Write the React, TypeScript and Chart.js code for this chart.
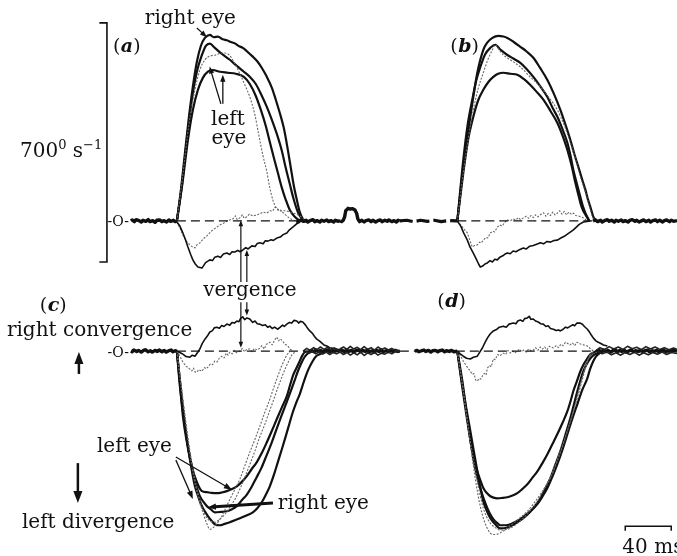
import React, { useEffect, useRef } from 'react';
import { Chart, registerables } from 'chart.js';

Chart.register(...registerables);

type Pt = [number, number];

// Time in ms from saccade onset; velocity in deg/s.
// Panel (a): right-going saccade, binocular velocities + vergence
const A_RIGHT_EYE_1: Pt[] = [[0,0],[3.5,91],[7,199],[10.4,302],[13.9,393],[17.4,466],[20.9,513],[24.4,536],[28.7,545],[32,538],[35.7,540],[40,532],[43.5,529],[47,524],[50.5,520],[54,512],[57.4,507],[61,497],[63.5,489],[67,478],[69.6,469],[74,448],[78.3,422],[82.7,390],[86.1,355],[89.6,316],[93.1,272],[96.6,208],[99.2,155],[101.8,103],[104.4,62],[107,26],[109.6,6],[112.2,-3]];
const A_RIGHT_EYE_2: Pt[] = [[0,0],[4.4,105],[8.7,237],[13,355],[17.4,437],[21.8,486],[25.2,513],[28.7,519],[33,507],[39.2,489],[46.1,472],[52.2,454],[58.3,437],[63.5,422],[68.7,401],[74,366],[78.3,334],[82.7,296],[87,255],[91.4,205],[94.8,155],[98.3,108],[101.8,62],[105.3,26],[108.8,6],[112.2,-3]];
const A_LEFT_EYE_1: Pt[] = [[0,0],[5.2,120],[9.6,237],[13.9,325],[18.3,384],[22.6,419],[27,437],[31.3,442],[37.4,437],[44.4,434],[51.3,431],[58.3,422],[63.5,401],[68.7,366],[73.1,325],[77.4,278],[80.9,231],[84.4,185],[87.9,141],[91.4,97],[94.8,62],[98.3,32],[102.7,12],[107,0]];
const A_LEFT_EYE_2: Pt[] = [[0,0],[5.2,135],[10.4,281],[15.7,384],[20,442],[24.4,472],[28.7,483],[33.9,486],[39.2,492],[44.4,489],[49.6,466],[54.8,431],[59.2,398],[63.5,363],[67.9,311],[71.3,252],[74.8,193],[78.3,144],[80.9,97],[83.5,62],[86.1,41],[89.6,29],[94,30],[98.3,26],[105.3,18],[111.4,3]];
const A_VERGENCE_1: Pt[] = [[0,-3],[2.6,-15],[5.2,-35],[7.5,-55],[9.6,-76],[12,-98],[13.9,-114],[16,-126],[18.3,-135],[21.8,-138],[25,-122],[28.7,-114],[31,-116],[33,-106],[35.7,-103],[38,-107],[40.5,-97],[43.5,-94],[46,-98],[48,-90],[50.5,-91],[53,-86],[55,-90],[57.4,-85],[60,-78],[62,-82],[65.3,-73],[68,-75],[70,-66],[72.2,-64],[75,-67],[77,-58],[79.2,-59],[82,-55],[84,-57],[87,-50],[90,-47],[92.5,-40],[95.7,-35],[98,-26],[100.9,-18],[104,-9],[107,-3]];
const A_VERGENCE_2: Pt[] = [[0,-3],[2.5,-20],[5.2,-41],[8,-58],[11.3,-70],[13.5,-76],[15.7,-79],[17.5,-70],[20,-64],[23,-52],[26.1,-44],[28.5,-35],[31.3,-26],[34,-20],[37.4,-12],[40,-8],[43.5,0],[46,3],[48.7,6],[51,15],[52.5,4],[54.8,9],[57,18],[58.5,8],[60.9,12],[63,20],[66.1,15],[69,17],[72.2,21],[75,26],[78.3,23],[81,30],[83.5,29],[85,40],[87,38],[89,30],[90.5,32],[93,22],[95.7,15],[98,8],[100.9,3],[104,0],[107,-3]];

// Panel (b)
const B_RIGHT_EYE_1: Pt[] = [[0,0],[5.2,158],[11.3,305],[17.4,434],[22.6,501],[26,522],[30.5,536],[35.7,542],[40,540],[43.5,536],[49,524],[54.8,510],[60,497],[66.1,478],[72,448],[78.3,413],[84,372],[89.6,325],[94,282],[98.3,237],[102,193],[105.3,158],[108.5,122],[111.4,91],[113.5,64],[115.7,41],[118.3,12],[121,0]];
const B_RIGHT_EYE_2: Pt[] = [[0,0],[5.2,179],[9,282],[13,355],[16.5,412],[20,451],[24,487],[28.7,507],[33,516],[38,500],[43.5,486],[49,475],[54.8,463],[60,446],[66.1,422],[72,395],[78.3,363],[83,330],[87,305],[91.5,268],[95.7,229],[98.5,190],[100.9,149],[104,108],[107,70],[109,45],[111.4,23],[114.8,0]];
const B_LEFT_EYE_1: Pt[] = [[0,0],[5.2,141],[9.5,240],[13.9,305],[18,352],[22.6,384],[27,407],[31.3,422],[35.5,431],[40,434],[46,431],[52.2,428],[58,415],[63.5,398],[69,378],[74.8,355],[81,322],[87,287],[91.5,250],[95.7,208],[99.5,160],[102.7,111],[105,80],[107,53],[109,33],[111.4,18],[114.8,0]];
const B_LEFT_EYE_2: Pt[] = [[0,0],[5.2,141],[9.5,240],[13.9,325],[18,386],[22.6,434],[26.5,472],[30.5,501],[33,516],[36.5,500],[40,486],[46,472],[54.8,451],[63,423],[72.2,393],[80,360],[87,325],[93,280],[98.3,229],[103,178],[107,129],[111,88],[114,53],[117.5,12],[120,0]];
const B_VERGENCE_1: Pt[] = [[0,0],[3,-15],[5.5,-35],[8.7,-56],[11,-76],[13.9,-94],[16.5,-112],[18.5,-126],[20,-135],[22,-132],[24,-126],[26.1,-123],[28.5,-116],[30.5,-120],[32.5,-112],[34.8,-114],[37,-106],[39.5,-102],[41.5,-97],[43.5,-94],[46,-96],[48.5,-88],[51,-90],[54,-84],[57.4,-79],[60,-82],[63,-74],[66,-72],[69,-68],[72.2,-64],[75,-67],[78,-60],[81,-62],[84,-57],[87,-56],[90,-50],[93,-45],[96,-38],[98.5,-32],[100.9,-26],[103.5,-18],[106,-10],[109.6,-3],[115.7,0]];
const B_VERGENCE_2: Pt[] = [[0,0],[3,-12],[5.5,-22],[8.7,-35],[11,-58],[13,-76],[15,-72],[17.4,-70],[19.5,-62],[21,-64],[22.6,-56],[25,-48],[26.5,-50],[28.7,-35],[31,-30],[32.5,-32],[34.8,-18],[37,-12],[39,-15],[41,-5],[43.5,3],[46,0],[48.5,6],[51,3],[53,10],[55,4],[57.4,9],[60,14],[62,8],[64,16],[66,10],[68,18],[70,12],[72.2,18],[75,24],[77,14],[79,22],[81,16],[83,26],[85,18],[87,23],[89,30],[91,20],[93,28],[95,18],[97,26],[99,20],[100.9,23],[103,16],[106,14],[109.6,9],[112,3],[115.7,0]];

// Panel (c): left-going saccade (negative = leftward)
const C_LEFT_EYE_1: Pt[] = [[0,0],[2.6,-91],[5.2,-190],[8.7,-267],[13,-337],[17.4,-384],[21.8,-410],[26.1,-413],[30,-415],[34.8,-416],[39,-414],[43.5,-410],[48,-404],[52.2,-396],[56.5,-383],[60.9,-366],[65,-346],[69.6,-325],[74,-298],[78.3,-267],[82.6,-234],[87,-199],[91.5,-164],[95.7,-132],[98.5,-100],[100.9,-73],[104,-50],[107,-29],[109,-14],[111.4,-3],[115.7,0]];
const C_RIGHT_EYE_1: Pt[] = [[0,0],[2.6,-103],[7,-220],[11.3,-316],[15.7,-396],[18.8,-428],[21.8,-454],[24.5,-470],[27,-483],[30,-496],[33,-507],[37.4,-510],[41.5,-506],[46.1,-501],[51.5,-494],[57.4,-486],[61.5,-480],[66.1,-472],[70,-460],[74,-442],[77.5,-420],[80.9,-396],[84.5,-362],[87.9,-325],[91.5,-286],[94.8,-249],[98,-212],[100.9,-179],[104,-150],[107,-126],[109.5,-100],[112.2,-73],[115,-50],[118.3,-29],[121,-16],[124.4,-9],[130.5,0]];
const C_RIGHT_EYE_2: Pt[] = [[0,0],[4.4,-141],[8.7,-258],[13.9,-355],[17,-395],[20,-425],[23,-441],[26.1,-454],[29.5,-463],[33,-472],[38,-471],[43.5,-469],[48,-463],[52.2,-454],[56.5,-437],[60.9,-420],[65,-398],[69,-372],[73.6,-342],[78,-306],[82.3,-270],[86.6,-230],[91,-190],[95.5,-150],[99.7,-112],[102.5,-86],[105,-62],[108,-38],[111,-18],[114,-7],[117,-2],[122,0]];
const C_LEFT_EYE_2: Pt[] = [[0,0],[4.4,-120],[8.7,-237],[13,-337],[17.4,-413],[20,-445],[22.6,-472],[25.5,-500],[28.7,-522],[31,-518],[33,-513],[36,-500],[39.2,-483],[42.5,-460],[46.1,-434],[50.5,-405],[54.8,-375],[59,-337],[63.5,-296],[68,-258],[72.2,-220],[76.5,-180],[80.9,-141],[84.5,-105],[87.9,-73],[91,-45],[94,-23],[96,-10],[98.3,-3]];
const C_LEFT_EYE_3: Pt[] = [[0,0],[5.2,-141],[10.4,-272],[15.7,-375],[20.9,-448],[24,-475],[27,-492],[30,-499],[33,-501],[37,-493],[41.8,-478],[46,-458],[50.5,-434],[55,-403],[59.2,-369],[63.5,-332],[67.9,-293],[72,-253],[76.6,-214],[80.5,-177],[84.4,-141],[88,-106],[91.4,-76],[94.5,-50],[97.4,-29],[100,-12],[102.7,-3]];
const C_VERGENCE_1: Pt[] = [[0,0],[3,-5],[5.2,-9],[8,-16],[11.3,-18],[13.5,-12],[15.7,-15],[18,-4],[20,6],[22,22],[24.4,35],[26.5,44],[28.7,56],[31,60],[32.5,68],[34.8,70],[37,67],[39,75],[41,72],[43.5,79],[46,76],[48,84],[50,82],[52.2,88],[54,86],[55.5,96],[57.4,100],[59,92],[61,97],[63.5,94],[66,84],[68,88],[70,80],[72.2,79],[74.5,75],[77,77],[79,70],[80.9,73],[83,66],[85,70],[87.9,64],[90,70],[92,76],[93.5,72],[95.7,79],[98,84],[100,82],[102,90],[104.4,88],[106,82],[107.5,87],[109.6,85],[112,76],[113.5,68],[115.7,59],[118,52],[120,42],[121.8,35],[124,30],[126,24],[128,18],[130.5,15],[133,10],[136,8],[139.2,6]];
const C_VERGENCE_2: Pt[] = [[0,0],[2.5,-14],[5.2,-32],[8,-44],[11.3,-53],[13,-58],[14.5,-50],[16,-62],[17.4,-62],[19,-54],[21.8,-59],[24,-48],[25.5,-52],[27,-47],[29,-38],[31,-40],[33,-29],[35,-32],[37,-20],[39.2,-15],[41,-20],[43,-6],[44.5,-12],[46.1,-3],[48,-8],[50,2],[52,-5],[54.8,0],[57,8],[59,-2],[61,6],[63.5,6],[65.5,-2],[67.5,8],[70,3],[72.2,9],[74,16],[76,6],[78,20],[80.9,26],[83,18],[85,32],[87,41],[88.5,30],[90,36],[92.2,29],[94,20],[96.6,15],[98.5,6],[100.9,0]];

// Panel (d)
const D_LEFT_EYE_1: Pt[] = [[0,0],[4.4,-108],[8.7,-205],[13,-293],[17.4,-352],[20,-378],[22.6,-401],[25.5,-415],[28.7,-425],[31.5,-429],[34.8,-431],[39,-430],[43.5,-428],[48,-423],[52.2,-416],[56.5,-404],[60.9,-390],[65,-372],[69.6,-352],[74,-328],[78.3,-302],[82.6,-273],[87,-243],[91.5,-210],[95.7,-176],[98.5,-146],[100.9,-117],[104,-88],[107,-59],[110,-38],[113.1,-21],[115.5,-10],[117.5,-6],[121,0]];
const D_RIGHT_EYE_1: Pt[] = [[0,0],[4.4,-88],[8.7,-196],[13.9,-314],[17,-365],[20,-401],[23,-433],[26.1,-460],[28.5,-477],[31.3,-492],[34.5,-503],[37.4,-510],[42,-510],[46.1,-507],[50.5,-500],[54.8,-492],[59,-481],[63.5,-469],[68,-452],[72.2,-431],[76.5,-403],[80.9,-372],[85,-335],[89.6,-293],[94,-245],[98.3,-196],[101.5,-155],[104.4,-117],[107,-86],[109.6,-59],[112.5,-38],[115.7,-21],[118.5,-12],[121.8,-6],[126.2,0]];
const D_RIGHT_EYE_2: Pt[] = [[0,0],[5.2,-117],[11.3,-234],[17.4,-352],[20,-400],[22.6,-440],[25.5,-467],[28.7,-489],[33,-507],[37.4,-519],[42,-518],[46.1,-513],[51.5,-503],[57.4,-489],[63.5,-470],[69.6,-448],[74,-426],[78.3,-401],[82.6,-368],[87,-331],[91.5,-288],[95.7,-243],[100,-198],[104.4,-155],[108.5,-115],[113.1,-79],[115.5,-52],[118.3,-29],[120.5,-16],[122.7,-9],[127,0]];
const D_LEFT_EYE_2: Pt[] = [[0,0],[4.4,-97],[8.7,-205],[13,-314],[17.4,-410],[20,-455],[22.6,-489],[25.5,-515],[28.7,-533],[31.5,-537],[34.8,-536],[37.5,-532],[40,-527],[44,-517],[48.7,-504],[54.5,-488],[60.9,-469],[66.5,-446],[72.2,-419],[78,-388],[83.5,-352],[88,-313],[92.2,-272],[96.5,-225],[100.9,-176],[104,-136],[107,-97],[110,-60],[113.1,-29],[115.7,-9],[118.3,0]];
const D_LEFT_EYE_3: Pt[] = [[0,0],[5.2,-117],[11.3,-264],[17.4,-381],[20,-425],[22.6,-460],[25.5,-485],[28.7,-504],[33,-517],[37.4,-524],[41.5,-523],[46.1,-519],[51.5,-506],[57.4,-489],[63.5,-466],[69.6,-440],[75,-408],[80.9,-372],[85,-335],[89.6,-293],[94,-250],[98.3,-205],[102,-164],[105.3,-126],[108.5,-86],[111.4,-50],[113.5,-28],[115.7,-12],[118,-3]];
const D_VERGENCE_1: Pt[] = [[0,0],[2.5,-8],[5.2,-15],[8,-21],[11.3,-23],[14,-18],[17.4,-15],[19.5,-3],[21.8,9],[24,25],[26.1,38],[28.5,50],[31.3,59],[34,63],[36.5,70],[40,73],[42.5,70],[45,79],[48.7,82],[51,80],[52.5,88],[54.8,91],[57,87],[58.5,95],[60.9,97],[62.5,102],[64,93],[66.1,94],[68,88],[70.5,85],[72.5,80],[74.8,79],[77,72],[79,74],[81,66],[83.5,64],[86,60],[88,62],[89.6,59],[92,64],[94,70],[96,68],[98.3,73],[100.5,77],[102,74],[104,82],[107,82],[109,78],[110.5,72],[113.1,64],[115,55],[116.5,47],[118.3,38],[120.5,30],[122.5,26],[124.4,23],[127,18],[130.5,15]];
const D_VERGENCE_2: Pt[] = [[0,0],[2.5,-12],[5.2,-29],[8,-44],[11.3,-59],[13,-68],[14.5,-66],[16,-85],[17.4,-88],[19,-80],[20.5,-82],[21.8,-73],[23.5,-65],[25,-70],[26.1,-50],[28,-42],[29.5,-46],[31.3,-23],[33,-25],[35,-10],[37,-14],[40,-6],[42,-10],[44,2],[46,-6],[48,0],[50,-5],[52.2,0],[54,6],[56,-2],[58,4],[60,-3],[62,6],[64,1],[66.1,3],[68,10],[70,2],[72,12],[74,6],[76,12],[78,4],[80,14],[83.5,9],[86,16],[88,10],[90,20],[92,16],[94,26],[95.7,23],[98,18],[100,24],[102,16],[104,26],[107,21],[110,18],[113.1,15],[116,6],[118.3,0]];

// Fixation (baseline) noise segments
const A_BASE_PRE: Pt[] = [[-40,0],[-39,3],[-37,-2],[-35.5,4],[-33,1],[-31,-3],[-29.5,2],[-27,-1],[-25,4],[-23.5,-2],[-21,1],[-19,-4],[-17.5,2],[-15,3],[-13,-2],[-11.5,1],[-9,-3],[-7,3],[-5.5,-1],[-3,2],[-1.5,-2],[0,0]];
const A_BASE_POST: Pt[] = [[104,0],[106,-2],[108,3],[110,-1],[112.5,2],[114,-3],[116,1],[118.5,4],[120,-2],[122,1],[124.5,-3],[126,2],[128,-1],[130.5,3],[132,-2],[134,1],[136.5,-3],[138,2],[140,-1],[142,1]];
const B_BASE_PRE: Pt[] = [[-102,0],[-100.5,-2],[-99,3],[-98,12],[-97,30],[-95,37],[-93,35],[-91,36],[-89,32],[-87.5,22],[-86.5,6],[-85,-2],[-83,2],[-81,-3],[-79.5,1],[-77,3],[-75,-2],[-73.5,2],[-71,-3],[-69,1],[-67,3],[-65.5,-2],[-63,2],[-61,-1],[-59.5,3],[-57,-2],[-55,1],[-53,-3],[-51.5,2],[-50,0]];
const B_BASE_MID: Pt[] = [[-50,0],[-44,2],[-38,-2],[-32,2],[-26,-1],[-20,2],[-14,-2],[-8,1],[0,0]];
const B_BASE_POST: Pt[] = [[118,0],[120,3],[122,-2],[124.5,2],[126,-3],[128,1],[130.5,4],[132,-1],[134,2],[136.5,-3],[138,2],[140,-1],[142.5,3],[144,-2],[146,1],[148.5,-3],[150,2],[152,4],[154.5,-1],[156,2],[158,-3],[160.5,1],[162,3],[164,-2],[166.5,2],[168,-3],[170,1],[172.5,3],[174,-2],[176,2],[178.5,-3],[180,1],[182,3],[184.5,-2],[186,2],[188,-1],[191,1]];
const C_BASE_PRE: Pt[] = [[-40,0],[-39,-2],[-37.5,3],[-35,-1],[-33.5,2],[-31,-3],[-29,2],[-27.5,4],[-25,-2],[-23,1],[-21.5,-3],[-19,2],[-17,-1],[-15.5,3],[-13,-2],[-11,2],[-9.5,-3],[-7,1],[-5,3],[-3.5,-2],[-1.5,1],[0,0]];
const C_BASE_POST_1: Pt[] = [[110,0],[113,8],[116,2],[119,10],[122,4],[125,12],[128,5],[131,11],[134,3],[137,9],[140,4],[142,6]];
const C_BASE_POST_2: Pt[] = [[112,0],[115,-6],[118,-1],[121,-8],[124,-2],[127,-9],[130,-3],[133,-10],[136,-4],[139,-8],[142,-3]];
const C_BASE_POST_3: Pt[] = [[115,0],[117,2],[119.5,-2],[121,3],[123.5,-1],[125,2],[127.5,-3],[129,1],[131.5,3],[133,-2],[135.5,2],[137,-1],[139.5,2],[142,0]];
const D_BASE_PRE_1: Pt[] = [[-102,6],[-99,12],[-96,5],[-93,14],[-90,6],[-87,11],[-84,4],[-81,13],[-78,5],[-75,10],[-72,3],[-69,12],[-66,5],[-63,9],[-60,3],[-57,8],[-54,2],[-50,0]];
const D_BASE_PRE_2: Pt[] = [[-102,-3],[-99,-10],[-96,-4],[-93,-12],[-90,-5],[-87,-11],[-84,-3],[-81,-13],[-78,-5],[-75,-10],[-72,-4],[-69,-12],[-66,-6],[-63,-9],[-60,-3],[-57,-8],[-54,-2],[-50,0]];
const D_BASE_PRE_3: Pt[] = [[-102,0],[-100,2],[-98.5,-2],[-96,3],[-94.5,-1],[-92,2],[-90,-3],[-88.5,1],[-86,3],[-84,-2],[-82.5,2],[-80,-1],[-78,3],[-76.5,-2],[-74,1],[-72,-3],[-70.5,2],[-68,-1],[-66,3],[-64.5,-2],[-62,1],[-60,-2],[-58.5,2],[-56,-1],[-54,2],[-52,-1],[-50,0]];
const D_BASE_MID: Pt[] = [[-37,0],[-35,2],[-33.5,-2],[-31,1],[-29,3],[-27.5,-1],[-25,2],[-23,-3],[-21.5,1],[-19,2],[-17,-2],[-15.5,1],[-13,3],[-11,-2],[-9.5,1],[-7,-1],[-5,2],[-3,-2],[0,0]];
const D_BASE_POST_1: Pt[] = [[120,0],[124,10],[128,4],[132,13],[136,6],[140,12],[144,5],[148,14],[152,7],[156,11],[160,4],[164,13],[168,6],[172,12],[176,5],[180,10],[184,4],[188,9],[191,5]];
const D_BASE_POST_2: Pt[] = [[122,0],[126,-8],[130,-3],[134,-11],[138,-5],[142,-12],[146,-4],[150,-10],[154,-3],[158,-12],[162,-5],[166,-11],[170,-4],[174,-9],[178,-3],[182,-10],[186,-4],[191,-7]];
const D_BASE_POST_3: Pt[] = [[121,0],[123,2],[125.5,-2],[127,3],[129.5,-1],[131,2],[133.5,-3],[135,1],[137.5,3],[139,-2],[141.5,2],[143,-1],[145.5,2],[147,-3],[149.5,1],[151,3],[153.5,-2],[155,1],[157.5,-1],[159,2],[161.5,-2],[163,1],[165.5,3],[167,-2],[169.5,1],[171,-1],[173.5,2],[175,-2],[177.5,1],[179,3],[181.5,-2],[183,1],[185.5,-1],[187,2],[191,0]];

// Zero-velocity reference lines (start, end in ms)
const ZERO_A: Pt[] = [[0,0],[110,0]];
const ZERO_B: Pt[] = [[0,0],[120,0]];
const ZERO_C: Pt[] = [[0,0],[112,0]];
const ZERO_D: Pt[] = [[-50,0],[122,0]];

// Calibration bars
const VEL_BAR_DEG_S = 700;
const VEL_BAR_TOP = 580;
const TIME_BAR_MS = 40;

type Style = 'thick' | 'dot' | 'verg' | 'vergDot' | 'base' | 'baseDash' | 'band' | 'zero';
interface Series { data: Pt[]; x: string; y: string; style: Style; }

const SERIES: Series[] = [
  { data: ZERO_A, x: 'xL', y: 'yT', style: 'zero' },
  { data: ZERO_B, x: 'xR', y: 'yT', style: 'zero' },
  { data: ZERO_C, x: 'xL', y: 'yB', style: 'zero' },
  { data: ZERO_D, x: 'xR', y: 'yB', style: 'zero' },
  { data: A_BASE_PRE, x: 'xL', y: 'yT', style: 'base' },
  { data: A_BASE_POST, x: 'xL', y: 'yT', style: 'base' },
  { data: B_BASE_PRE, x: 'xR', y: 'yT', style: 'base' },
  { data: B_BASE_MID, x: 'xR', y: 'yT', style: 'baseDash' },
  { data: B_BASE_POST, x: 'xR', y: 'yT', style: 'base' },
  { data: C_BASE_PRE, x: 'xL', y: 'yB', style: 'base' },
  { data: C_BASE_POST_1, x: 'xL', y: 'yB', style: 'band' },
  { data: C_BASE_POST_2, x: 'xL', y: 'yB', style: 'band' },
  { data: C_BASE_POST_3, x: 'xL', y: 'yB', style: 'base' },
  { data: D_BASE_PRE_1, x: 'xR', y: 'yB', style: 'band' },
  { data: D_BASE_PRE_2, x: 'xR', y: 'yB', style: 'band' },
  { data: D_BASE_PRE_3, x: 'xR', y: 'yB', style: 'base' },
  { data: D_BASE_MID, x: 'xR', y: 'yB', style: 'base' },
  { data: D_BASE_POST_1, x: 'xR', y: 'yB', style: 'band' },
  { data: D_BASE_POST_2, x: 'xR', y: 'yB', style: 'band' },
  { data: D_BASE_POST_3, x: 'xR', y: 'yB', style: 'base' },
  { data: A_LEFT_EYE_2, x: 'xL', y: 'yT', style: 'dot' },
  { data: A_RIGHT_EYE_1, x: 'xL', y: 'yT', style: 'thick' },
  { data: A_RIGHT_EYE_2, x: 'xL', y: 'yT', style: 'thick' },
  { data: A_LEFT_EYE_1, x: 'xL', y: 'yT', style: 'thick' },
  { data: A_VERGENCE_1, x: 'xL', y: 'yT', style: 'verg' },
  { data: A_VERGENCE_2, x: 'xL', y: 'yT', style: 'vergDot' },
  { data: B_LEFT_EYE_2, x: 'xR', y: 'yT', style: 'dot' },
  { data: B_RIGHT_EYE_1, x: 'xR', y: 'yT', style: 'thick' },
  { data: B_RIGHT_EYE_2, x: 'xR', y: 'yT', style: 'thick' },
  { data: B_LEFT_EYE_1, x: 'xR', y: 'yT', style: 'thick' },
  { data: B_VERGENCE_1, x: 'xR', y: 'yT', style: 'verg' },
  { data: B_VERGENCE_2, x: 'xR', y: 'yT', style: 'vergDot' },
  { data: C_LEFT_EYE_2, x: 'xL', y: 'yB', style: 'dot' },
  { data: C_LEFT_EYE_3, x: 'xL', y: 'yB', style: 'dot' },
  { data: C_LEFT_EYE_1, x: 'xL', y: 'yB', style: 'thick' },
  { data: C_RIGHT_EYE_1, x: 'xL', y: 'yB', style: 'thick' },
  { data: C_RIGHT_EYE_2, x: 'xL', y: 'yB', style: 'thick' },
  { data: C_VERGENCE_1, x: 'xL', y: 'yB', style: 'verg' },
  { data: C_VERGENCE_2, x: 'xL', y: 'yB', style: 'vergDot' },
  { data: D_LEFT_EYE_2, x: 'xR', y: 'yB', style: 'dot' },
  { data: D_LEFT_EYE_3, x: 'xR', y: 'yB', style: 'dot' },
  { data: D_LEFT_EYE_1, x: 'xR', y: 'yB', style: 'thick' },
  { data: D_RIGHT_EYE_1, x: 'xR', y: 'yB', style: 'thick' },
  { data: D_RIGHT_EYE_2, x: 'xR', y: 'yB', style: 'thick' },
  { data: D_VERGENCE_1, x: 'xR', y: 'yB', style: 'verg' },
  { data: D_VERGENCE_2, x: 'xR', y: 'yB', style: 'vergDot' },
];

const STYLES: Record<Style, any> = {
  thick: { borderColor: '#111', borderWidth: 2.2, cubicInterpolationMode: 'monotone' },
  dot: { borderColor: '#666', borderWidth: 1.1, borderDash: [2, 1.5], cubicInterpolationMode: 'monotone' },
  verg: { borderColor: '#111', borderWidth: 1.6, tension: 0 },
  vergDot: { borderColor: '#666', borderWidth: 1.1, borderDash: [2, 1.5], tension: 0 },
  base: { borderColor: '#111', borderWidth: 3.4, tension: 0 },
  baseDash: { borderColor: '#111', borderWidth: 3.2, borderDash: [13, 4], tension: 0 },
  band: { borderColor: '#222', borderWidth: 1.6, tension: 0 },
  zero: { borderColor: '#111', borderWidth: 1.3, borderDash: [9, 5], tension: 0 },
};

interface Label { text: string; ax: string; ay: string; x: number; y: number; align: CanvasTextAlign; size?: number; }
const LABELS: Label[] = [
  { text: 'right eye', ax: 'xL', ay: 'yT', x: -27.9, y: 577, align: 'left' },
  { text: 'left', ax: 'xL', ay: 'yT', x: 44.4, y: 281, align: 'center' },
  { text: 'eye', ax: 'xL', ay: 'yT', x: 45.3, y: 225, align: 'center' },
  { text: 'vergence', ax: 'xL', ay: 'yB', x: 63.6, y: 161, align: 'center' },
  { text: 'right convergence', ax: 'xL', ay: 'yB', x: -148, y: 44, align: 'left' },
  { text: 'left eye', ax: 'xL', ay: 'yB', x: -69.6, y: -296, align: 'left' },
  { text: 'right eye', ax: 'xL', ay: 'yB', x: 87.9, y: -463, align: 'left' },
  { text: 'left divergence', ax: 'xL', ay: 'yB', x: -134.9, y: -518, align: 'left' },
  { text: '40 ms', ax: 'xR', ay: 'yB', x: 143.5, y: -592, align: 'left' },
  { text: '-O-', ax: 'xL', ay: 'yT', x: -51, y: -15, align: 'center', size: 14 },
  { text: '-O-', ax: 'xL', ay: 'yB', x: -51, y: -18, align: 'center', size: 14 },
];

// velocity scale label with superscripts: [text, font size, rise in px]
const VEL_LABEL_PARTS: [string, number, number][] = [['700', 20, 0], ['0', 13, 8], [' s', 20, 0], ['−1', 13, 8]];
const VEL_LABEL_POS = { ax: 'xL', ay: 'yT', x: -136.6, y: 187 };

const PANEL_LETTERS = [
  { letter: 'a', ax: 'xL', ay: 'yT', x: -55.7, y: 495 },
  { letter: 'b', ax: 'xR', ay: 'yT', x: -6.1, y: 495 },
  { letter: 'c', ax: 'xL', ay: 'yB', x: -119.3, y: 117 },
  { letter: 'd', ax: 'xR', ay: 'yB', x: -17.4, y: 129 },
];

interface Arrow { ax: string; ay: string; from: Pt; to: Pt; w: number; head: number; }
const ARROWS: Arrow[] = [
  { ax: 'xL', ay: 'yT', from: [17.4, 565], to: [26.1, 538], w: 1.2, head: 7 },
  { ax: 'xL', ay: 'yT', from: [38.3, 343], to: [28.5, 452], w: 1.3, head: 7 },
  { ax: 'xL', ay: 'yT', from: [40, 343], to: [40, 428], w: 1.3, head: 7 },
  { ax: 'xL', ay: 'yT', from: [55.7, -179], to: [55.7, 2], w: 1.2, head: 6 },
  { ax: 'xL', ay: 'yT', from: [60.9, -179], to: [60.9, -85], w: 1.2, head: 6 },
  { ax: 'xL', ay: 'yB', from: [55.7, 143], to: [55.7, 10], w: 1.2, head: 6 },
  { ax: 'xL', ay: 'yB', from: [60.9, 143], to: [60.9, 104], w: 1.2, head: 6 },
  { ax: 'xL', ay: 'yB', from: [-0.9, -310], to: [47.9, -406], w: 1.3, head: 8 },
  { ax: 'xL', ay: 'yB', from: [-0.9, -319], to: [13.9, -433], w: 1.3, head: 8 },
  { ax: 'xL', ay: 'yB', from: [83.6, -445], to: [27, -457], w: 3, head: 8 },
  { ax: 'xL', ay: 'yB', from: [-85.3, -67], to: [-85.3, -3], w: 2.5, head: 12 },
  { ax: 'xL', ay: 'yB', from: [-86.2, -328], to: [-86.2, -445], w: 2.5, head: 12 },
];

const FONT = '"DejaVu Serif", serif';

const annotations = {
  id: 'annotations',
  afterDatasetsDraw(chart: any) {
    const ctx: CanvasRenderingContext2D = chart.ctx;
    const P = (ax: string, ay: string, x: number, y: number): Pt => [
      chart.scales[ax].getPixelForValue(x),
      chart.scales[ay].getPixelForValue(y),
    ];
    ctx.save();
    ctx.fillStyle = '#111';
    ctx.strokeStyle = '#111';
    ctx.lineCap = 'butt';

    // velocity calibration bracket
    {
      const [x, y1] = P('xL', 'yT', -60.9, VEL_BAR_TOP);
      const [, y2] = P('xL', 'yT', -60.9, VEL_BAR_TOP - VEL_BAR_DEG_S);
      const [xt] = P('xL', 'yT', -67.5, 0);
      ctx.lineWidth = 1.6;
      ctx.beginPath();
      ctx.moveTo(xt, y1); ctx.lineTo(x, y1); ctx.lineTo(x, y2); ctx.lineTo(xt, y2);
      ctx.stroke();
    }
    // time calibration bar
    {
      const [x1, y] = P('xR', 'yB', 146, -513);
      const [x2] = P('xR', 'yB', 146 + TIME_BAR_MS, -513);
      const [, yt] = P('xR', 'yB', 146, -526);
      ctx.lineWidth = 1.5;
      ctx.beginPath();
      ctx.moveTo(x1, yt); ctx.lineTo(x1, y); ctx.lineTo(x2, y); ctx.lineTo(x2, yt);
      ctx.stroke();
    }

    for (const a of ARROWS) {
      const [x1, y1] = P(a.ax, a.ay, a.from[0], a.from[1]);
      const [x2, y2] = P(a.ax, a.ay, a.to[0], a.to[1]);
      const ang = Math.atan2(y2 - y1, x2 - x1);
      const h = a.head, hw = a.head * 0.38;
      const bx = x2 - h * Math.cos(ang), by = y2 - h * Math.sin(ang);
      ctx.lineWidth = a.w;
      ctx.beginPath(); ctx.moveTo(x1, y1); ctx.lineTo(bx + Math.cos(ang), by + Math.sin(ang)); ctx.stroke();
      ctx.beginPath();
      ctx.moveTo(x2, y2);
      ctx.lineTo(bx + hw * Math.sin(ang), by - hw * Math.cos(ang));
      ctx.lineTo(bx - hw * Math.sin(ang), by + hw * Math.cos(ang));
      ctx.closePath(); ctx.fill();
    }

    ctx.textBaseline = 'alphabetic';
    for (const l of LABELS) {
      const [x, y] = P(l.ax, l.ay, l.x, l.y);
      ctx.font = `${l.size || 20}px ${FONT}`;
      ctx.textAlign = l.align;
      ctx.fillText(l.text, x, y);
    }

    ctx.textAlign = 'left';
    {
      let [x, y] = P(VEL_LABEL_POS.ax, VEL_LABEL_POS.ay, VEL_LABEL_POS.x, VEL_LABEL_POS.y);
      for (const [t, size, rise] of VEL_LABEL_PARTS) {
        ctx.font = `${size}px ${FONT}`;
        ctx.fillText(t, x, y - rise);
        x += ctx.measureText(t).width;
      }
    }

    for (const p of PANEL_LETTERS) {
      let [x, y] = P(p.ax, p.ay, p.x, p.y);
      const parts: [string, string][] = [['(', `19px ${FONT}`], [p.letter, `italic bold 19px ${FONT}`], [')', `19px ${FONT}`]];
      for (const [t, f] of parts) {
        ctx.font = f;
        ctx.fillText(t, x, y);
        x += ctx.measureText(t).width + (t === '(' ? 0.5 : 0);
      }
    }
    ctx.restore();
  },
};

export default function App() {
  const ref = useRef<HTMLCanvasElement | null>(null);
  useEffect(() => {
    if (!ref.current) return;
    const datasets = SERIES.map((s) => ({
      data: s.data.map(([x, y]) => ({ x, y })),
      xAxisID: s.x,
      yAxisID: s.y,
      showLine: true,
      pointRadius: 0,
      pointHoverRadius: 0,
      fill: false,
      borderJoinStyle: 'round',
      borderCapStyle: 'butt',
      ...STYLES[s.style],
    }));
    const chart = new Chart(ref.current, {
      type: 'scatter',
      data: { datasets } as any,
      options: {
        responsive: false,
        animation: false,
        devicePixelRatio: 1,
        events: [],
        layout: { padding: 0 },
        plugins: { legend: { display: false }, tooltip: { enabled: false } },
        scales: {
          xL: { type: 'linear', position: 'bottom', stack: 'time', stackWeight: 340, min: -154, max: 142, display: false },
          xR: { type: 'linear', position: 'bottom', stack: 'time', stackWeight: 337, min: -102, max: 191, display: false },
          yT: { type: 'linear', position: 'right', stack: 'vel', stackWeight: 1, min: -167, max: 647, display: false },
          yB: { type: 'linear', position: 'right', stack: 'vel', stackWeight: 1, min: -600, max: 214, display: false },
        },
      } as any,
      plugins: [annotations],
    });
    return () => chart.destroy();
  }, []);
  return (
    <div style={{ position: 'fixed', left: 0, top: 0, width: 677, height: 556, background: '#fff' }}>
      <canvas ref={ref} width={677} height={556} style={{ display: 'block' }} />
    </div>
  );
}
